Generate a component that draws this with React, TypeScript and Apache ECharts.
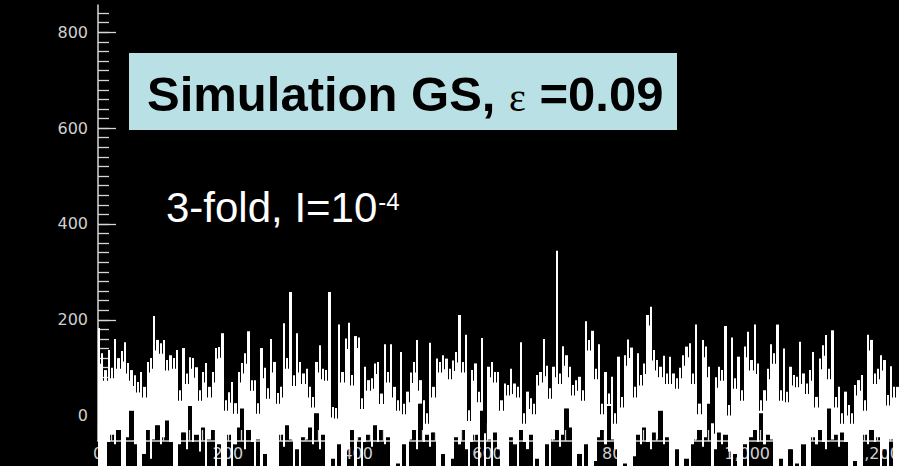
import React, { useEffect, useRef } from "react";
import * as echarts from "echarts";

// ---- data ----
const binWidth = 5; // counts per bin along the x axis
// upper end of the trace within each bin
const tops = [
  183, 130, 95, 137, 100, 160, 120, 135, 153, 110,
  95, 84, 70, 91, 60, 112, 120, 208, 158, 151,
  158, 116, 126, 120, 137, 53, 141, 88, 122, 120,
  101, 53, 91, 110, 60, 91, 141, 143, 172, 32,
  49, 70, 26, 91, 110, 130, 176, 74, 74, 26,
  141, 100, 57, 160, 112, 47, 60, 193, 120, 258,
  84, 172, 112, 88, 98, 60, 39, 112, 147, 98,
  95, 258, 18, 16, 190, 91, 161, 194, 85, 166,
  163, 36, 102, 74, 78, 109, 112, 46, 149, 91,
  149, 60, 32, 133, 25, 50, 90, 112, 158, 74,
  32, 5, 152, 60, 119, 112, 126, 119, 98, 115,
  133, 210, 112, 169, 11, 95, 109, 50, 162, -37,
  102, 112, 91, 91, 32, 67, 64, 98, 67, 60,
  153, 5, 50, 36, 25, 85, 91, 160, 104, 57,
  102, 344, 88, 145, 126, 102, 64, 74, 81, 53,
  197, 158, 177, 98, 149, 25, 91, 46, 81, 5,
  123, 39, 126, 159, 142, 60, 130, 85, 109, 210,
  227, 137, 116, 102, 125, 88, 123, 88, 78, 100,
  126, 144, 151, 88, 190, 25, 158, 144, 102, -16,
  80, 102, 95, 187, 22, 163, 78, 123, 53, 144,
  175, 116, 190, 109, 32, 53, 98, 149, 130, 190,
  53, 140, 50, 102, 85, 81, 154, 88, 67, 95,
  133, 39, 119, 147, 168, 98, 178, 39, 60, 5,
  50, 22, 5, 64, 74, 85, 32, 169, 158, 88,
  98, 126, 116, 43, 103, 60, 60,
];
// lower end of the trace within each bin
const lows = [
  -125, -125, -110, -55, -40, -60, -30, -125, -120, -45,
  10, -60, -125, -125, -80, -30, -90, -50, -20, -60,
  -45, -10, -55, -125, -125, -60, -35, -70, 20, -55,
  -40, -75, -25, -125, -50, -30, -125, -60, -125, -125,
  -40, -125, -60, -25, 15, -70, -30, -55, -125, -50,
  -125, -80, -125, -125, -110, -125, -40, -65, -20, -50,
  -125, -70, -125, -45, -50, -25, -60, 5, -70, -40,
  -125, -125, -90, -125, -60, -125, -125, -70, -30, -125,
  -45, -125, -55, -40, -65, -20, -55, -30, -60, -45,
  -125, -125, -100, -125, -60, -125, -50, -30, -70, 25,
  -55, -40, -65, -35, -125, -125, -80, -125, -125, -90,
  -45, -60, -30, -70, -125, -55, -40, -125, 10, -125,
  -50, -125, -35, -70, -125, -110, -125, -45, -60, -125,
  -30, -55, -70, -40, -125, -90, -125, -125, -60, -125,
  -50, -30, -65, -40, 15, -25, -125, -125, -80, -125,
  -60, -125, -125, -95, -45, -30, -60, 20, -50, -70,
  -125, -125, -100, -125, -125, -85, -40, -60, -25, -55,
  -70, -35, -50, 10, -60, -45, -125, -125, -70, -125,
  -125, -90, -125, -60, -50, -30, -65, -45, 25, -125,
  -70, -35, -60, -40, -75, -125, -80, -125, -125, -60,
  -125, -45, -30, -55, 5, -60, -40, -50, -125, -125,
  -90, -125, -125, -70, -125, -100, -125, -60, -125, -125,
  -45, -60, -30, -55, -70, 15, -50, -40, -65, -35,
  -55, -125, -125, -95, -125, -125, -40, -60, -30, -55,
  -45, -125, -70, -125, -50, -125, -125,
];
const xRange = [0, 1234];
const yRange = [-53, 857];
const xTickStep = 200;
const yTickStep = 200;
const yTickRange = [0, 800];
const yMinorStep = 20;
const yMinorRange = [-40, 840];
const titleMain = "Simulation GS, ";
const titleSymbol = "ε";
const titleValue = " =0.09";
const noteMain = "3-fold, I=10";
const noteSup = "-4";

const W = 899;
const H = 466;

export default function App() {
  const ref = useRef<HTMLDivElement>(null);

  useEffect(() => {
    if (!ref.current) return;
    const chart = echarts.init(ref.current, null, { renderer: "svg" });

    const gLeft = 98;
    const gTop = 5;
    const gBottomPx = 441;
    const scale = (gBottomPx - gTop) / (yRange[1] - yRange[0]);
    const yPx = (v: number) => gBottomPx - (v - yRange[0]) * scale;

    const axisColor = "#d6d6d6";
    const labelColor = "#cfcfcf";
    const labelFont = "DejaVu Sans";
    const crack = 22; // depth (in counts) of the dark seam between neighbouring bins

    const n = Math.min(tops.length, lows.length);
    const data: number[][] = [];
    for (let i = 0; i < n; i++) {
      data.push([i * binWidth, Math.max(tops[i], lows[i]), Math.min(tops[i], lows[i])]);
    }

    // measure widths for the text placement
    const cv = document.createElement("canvas");
    const ctx = cv.getContext("2d")!;
    const titleFont = 49;
    const symFont = 40;
    const noteFont = 42;
    const supFont = 24;
    ctx.font = `bold ${titleFont}px "Liberation Sans"`;
    const wMain = ctx.measureText(titleMain).width;
    ctx.font = `${symFont}px "Liberation Serif"`;
    const wSym = ctx.measureText(titleSymbol).width;
    ctx.font = `${noteFont}px "Liberation Sans"`;
    const wNote = ctx.measureText(noteMain).width;

    const titleX = 147;
    const titleY = 94;
    const noteX = 166;
    const noteY = 207;

    const option: any = {
      animation: false,
      backgroundColor: "#000",
      grid: [
        { left: gLeft, right: 0, top: gTop, bottom: H - gBottomPx, outerBoundsMode: "none" },
        { left: gLeft, right: 0, top: yPx(yMinorRange[1]), bottom: H - yPx(yMinorRange[0]), outerBoundsMode: "none" },
        { left: gLeft, right: 0, top: yPx(yTickRange[1]), bottom: H - yPx(yTickRange[0]), outerBoundsMode: "none" },
      ],
      xAxis: [
        {
          type: "value",
          gridIndex: 0,
          min: xRange[0],
          max: xRange[1],
          interval: xTickStep,
          axisLine: { show: true, onZero: false, lineStyle: { color: axisColor, width: 1.5 } },
          axisTick: { show: true, inside: true, length: 18, lineStyle: { color: axisColor, width: 1.3 } },
          minorTick: { show: true, splitNumber: 10, length: 11, lineStyle: { color: axisColor, width: 1.3 } },
          axisLabel: { color: labelColor, fontFamily: labelFont, fontSize: 16, margin: 4, showMaxLabel: false },
          splitLine: { show: false },
        },
        { type: "value", gridIndex: 1, min: xRange[0], max: xRange[1], show: false },
        { type: "value", gridIndex: 2, min: xRange[0], max: xRange[1], show: false },
      ],
      yAxis: [
        {
          type: "value",
          gridIndex: 0,
          min: yRange[0],
          max: yRange[1],
          axisLine: { show: true, onZero: false, lineStyle: { color: axisColor, width: 1.5 } },
          axisTick: { show: false },
          axisLabel: { show: false },
          splitLine: { show: false },
        },
        {
          type: "value",
          gridIndex: 1,
          min: yMinorRange[0],
          max: yMinorRange[1],
          interval: yMinorStep,
          axisLine: { show: false },
          axisTick: { show: true, inside: true, length: 11, lineStyle: { color: axisColor, width: 1.3 } },
          axisLabel: { show: false },
          splitLine: { show: false },
        },
        {
          type: "value",
          gridIndex: 2,
          min: yTickRange[0],
          max: yTickRange[1],
          interval: yTickStep,
          axisLine: { show: false },
          axisTick: { show: true, inside: true, length: 18, lineStyle: { color: axisColor, width: 1.3 } },
          axisLabel: { color: labelColor, fontFamily: labelFont, fontSize: 16, margin: 10 },
          splitLine: { show: false },
        },
      ],
      series: [
        {
          type: "custom",
          xAxisIndex: 0,
          yAxisIndex: 0,
          clip: false,
          z: 5,
          data,
          renderItem: (params: any, api: any) => {
            const i = params.dataIndex;
            const x = api.value(0);
            const hi = api.value(1);
            const lo = api.value(2);
            const p0 = api.coord([x, hi]);
            const p1 = api.coord([x + binWidth, lo]);
            const x0 = Math.round(p0[0]);
            const x1 = Math.round(p1[0]);
            const children: any[] = [
              {
                type: "rect",
                shape: { x: x0, y: p0[1], width: Math.max(1, x1 - x0 - 1), height: p1[1] - p0[1] },
                style: { fill: "#ffffff" },
              },
            ];
            const next = data[i + 1];
            if (next) {
              const cHi = Math.min(hi, next[1]) - crack;
              const cLo = Math.max(lo, next[2]);
              if (cHi > cLo) {
                const q0 = api.coord([x, cHi]);
                const q1 = api.coord([x, cLo]);
                children.push({
                  type: "rect",
                  shape: { x: x1 - 1, y: q0[1], width: 1, height: q1[1] - q0[1] },
                  style: { fill: "#ffffff" },
                });
              }
            }
            return { type: "group", children };
          },
        },
      ],
      graphic: [
        {
          type: "rect",
          z: 10,
          shape: { x: 129, y: 53, width: 548, height: 77 },
          style: { fill: "#b9e0e4" },
        },
        {
          type: "text",
          z: 11,
          x: titleX,
          y: titleY,
          style: {
            text: titleMain,
            fill: "#000",
            font: `bold ${titleFont}px "Liberation Sans"`,
            verticalAlign: "middle",
          },
        },
        {
          type: "text",
          z: 11,
          x: titleX + wMain,
          y: titleY + 3,
          style: {
            text: titleSymbol,
            fill: "#000",
            font: `${symFont}px "Liberation Serif"`,
            verticalAlign: "middle",
          },
        },
        {
          type: "text",
          z: 11,
          x: titleX + wMain + wSym,
          y: titleY,
          style: {
            text: titleValue,
            fill: "#000",
            font: `bold ${titleFont}px "Liberation Sans"`,
            verticalAlign: "middle",
          },
        },
        {
          type: "text",
          z: 11,
          x: noteX,
          y: noteY,
          style: {
            text: noteMain,
            fill: "#fff",
            font: `${noteFont}px "Liberation Sans"`,
            verticalAlign: "middle",
          },
        },
        {
          type: "text",
          z: 11,
          x: noteX + wNote + 1,
          y: noteY - 6,
          style: {
            text: noteSup,
            fill: "#fff",
            font: `${supFont}px "Liberation Sans"`,
            verticalAlign: "middle",
          },
        },
      ],
    };

    chart.setOption(option);
    return () => chart.dispose();
  }, []);

  return (
    <div
      ref={ref}
      style={{ position: "fixed", left: 0, top: 0, width: W, height: H, background: "#000" }}
    />
  );
}
